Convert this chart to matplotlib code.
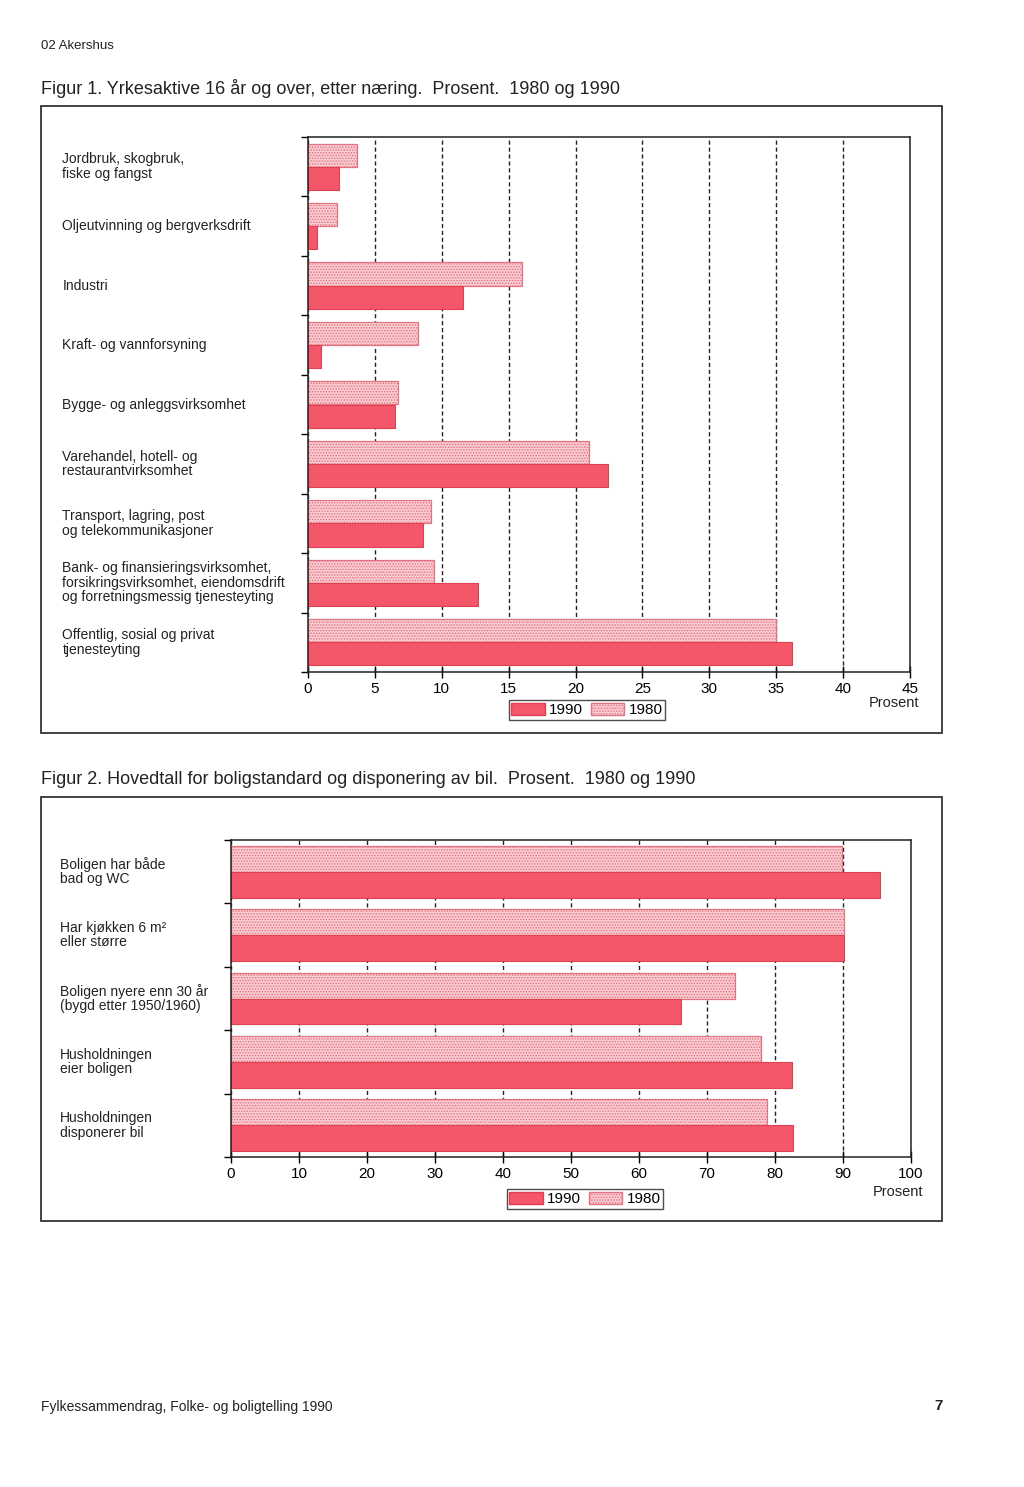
import matplotlib.pyplot as plt
import matplotlib.patches as mpatches
import numpy as np

plt.rcParams['font.family'] = ['Liberation Sans', 'DejaVu Sans']
plt.rcParams['hatch.linewidth'] = 0.7

# Figur 1 data
naeringer = ['Jordbruk, skogbruk,\nfiske og fangst',
             'Oljeutvinning og bergverksdrift',
             'Industri',
             'Kraft- og vannforsyning',
             'Bygge- og anleggsvirksomhet',
             'Varehandel, hotell- og\nrestaurantvirksomhet',
             'Transport, lagring, post\nog telekommunikasjoner',
             'Bank- og finansieringsvirksomhet,\nforsikringsvirksomhet, eiendomsdrift\nog forretningsmessig tjenesteyting',
             'Offentlig, sosial og privat\ntjenesteyting']
naering_1980 = [3.7, 2.2, 16.0, 8.2, 6.7, 21.0, 9.2, 9.4, 35.0]
naering_1990 = [2.3, 0.7, 11.6, 1.0, 6.5, 22.4, 8.6, 12.7, 36.2]

# Figur 2 data
bolig = ['Boligen har både\nbad og WC',
         'Har kjøkken 6 m²\neller større',
         'Boligen nyere enn 30 år\n(bygd etter 1950/1960)',
         'Husholdningen\neier boligen',
         'Husholdningen\ndisponerer bil']
bolig_1980 = [89.8, 90.1, 74.1, 77.9, 78.8]
bolig_1990 = [95.4, 90.2, 66.2, 82.5, 82.6]

RED = '#f4566a'
RED_EDGE = '#e0404f'
PINK = '#f9ccd2'
HATCH_EDGE = '#e27380'

W, H = 1024, 1487
fig = plt.figure(figsize=(W / 100, H / 100), dpi=100)


def px_axes(x0, y0, x1, y1):
    return fig.add_axes([x0 / W, 1 - y1 / H, (x1 - x0) / W, (y1 - y0) / H])


def frame(x0, y0, x1, y1):
    fig.patches.append(mpatches.Rectangle((x0 / W, 1 - y1 / H), (x1 - x0) / W, (y1 - y0) / H,
                                          transform=fig.transFigure, fill=False,
                                          edgecolor='#222222', linewidth=1.2))


def draw_chart(ax, labels, v80, v90, xmax, step, label_x, bar_h):
    n = len(labels)
    y = np.arange(n)
    ax.barh(y - bar_h / 2, v80, height=bar_h, color=PINK, edgecolor=HATCH_EDGE,
            hatch='......', linewidth=0.9, label='1980')
    ax.barh(y + bar_h / 2, v90, height=bar_h, color=RED, edgecolor=RED_EDGE,
            linewidth=0.8, label='1990')
    ax.set_xlim(0, xmax)
    ax.set_ylim(n - 0.5, -0.5)
    ax.set_xticks(np.arange(0, xmax + 1, step))
    ax.set_yticks(np.arange(n + 1) - 0.5)
    ax.set_yticklabels([])
    ax.tick_params(axis='y', direction='out', length=5, width=1)
    ax.tick_params(axis='x', direction='inout', length=9, width=1, labelsize=11, pad=3)
    ax.grid(axis='x', linestyle=(0, (3, 2)), color='#222222', linewidth=1.0)
    ax.set_axisbelow(True)
    for s in ax.spines.values():
        s.set_linewidth(1.1)
        s.set_color('#222222')
    for i, lab in enumerate(labels):
        ax.text(label_x, i, lab, transform=ax.get_yaxis_transform(), ha='left', va='center',
                fontsize=10, color='#222222', linespacing=1.05)
    handles = [mpatches.Patch(facecolor=RED, edgecolor=RED_EDGE, label='1990'),
               mpatches.Patch(facecolor=PINK, edgecolor=HATCH_EDGE, hatch='......', label='1980')]
    return handles


# header
fig.text(41 / W, 1 - 46 / H, '02 Akershus', fontsize=9.5, va='center', color='#222222')
fig.text(41 / W, 1 - 89 / H, 'Figur 1. Yrkesaktive 16 år og over, etter næring.  Prosent.  1980 og 1990',
         fontsize=13, va='center', color='#222222')
frame(41, 106, 942, 733)

ax1 = px_axes(308, 137, 910, 672)
h1 = draw_chart(ax1, naeringer, naering_1980, naering_1990, 45, 5, -0.408, 0.39)
ax1.legend(handles=h1, loc='center', bbox_to_anchor=((587 - 308) / 602, -(710 - 672) / 535),
           ncol=2, frameon=True, fancybox=False, edgecolor='#222222', fontsize=11,
           handlelength=2.2, handleheight=0.9, handletextpad=0.3, columnspacing=0.5,
           borderpad=0.15, borderaxespad=0)
fig.text(919 / W, 1 - 703 / H, 'Prosent', fontsize=10.5, ha='right', va='center', color='#222222')

fig.text(41 / W, 1 - 780 / H, 'Figur 2. Hovedtall for boligstandard og disponering av bil.  Prosent.  1980 og 1990',
         fontsize=13, va='center', color='#222222')
frame(41, 797, 942, 1221)

ax2 = px_axes(231, 840, 911, 1157)
h2 = draw_chart(ax2, bolig, bolig_1980, bolig_1990, 100, 10, -0.251, 0.41)
ax2.legend(handles=h2, loc='center', bbox_to_anchor=((585 - 231) / 680, -(1199 - 1157) / 317),
           ncol=2, frameon=True, fancybox=False, edgecolor='#222222', fontsize=11,
           handlelength=2.2, handleheight=0.9, handletextpad=0.3, columnspacing=0.5,
           borderpad=0.15, borderaxespad=0)
fig.text(923 / W, 1 - 1192 / H, 'Prosent', fontsize=10.5, ha='right', va='center', color='#222222')

# footer
fig.text(41 / W, 1 - 1407 / H, 'Fylkessammendrag, Folke- og boligtelling 1990', fontsize=10,
         va='center', color='#222222')
fig.text(943 / W, 1 - 1406 / H, '7', fontsize=11, va='center', ha='right', fontweight='bold',
         color='#222222')

fig.savefig('out.png', dpi=100)
